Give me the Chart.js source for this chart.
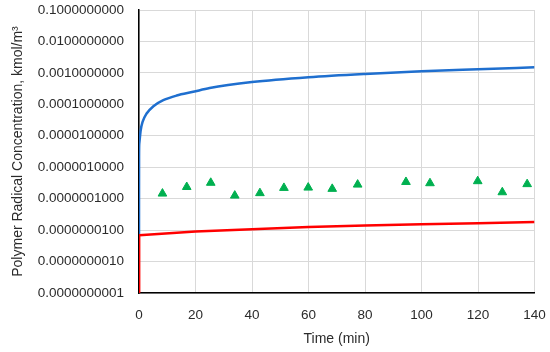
<!DOCTYPE html>
<html>
<head>
<meta charset="utf-8">
<script src="https://cdn.jsdelivr.net/npm/chart.js@4"></script>
<style>
  html, body { margin: 0; padding: 0; background: #fff; }
  #wrap { width: 550px; height: 352px; }
</style>
</head>
<body>
<div id="wrap"><canvas id="radicals" width="550" height="352"></canvas></div>
<script>
// blue curve
const blueTime = [0, 0.02, 0.1, 0.6, 1.3, 2.7, 5.1, 8.6, 13.3, 19.2, 25, 40, 60, 80, 100, 120, 140];
const blueConc = [7e-9, 2e-6, 5.6e-6, 1.5e-5, 2.8e-5, 5.1e-5, 8.7e-5, 1.35e-4, 1.9e-4, 2.5e-4, 3.3e-4, 5.1e-4, 7.3e-4, 9.3e-4, 1.12e-3, 1.3e-3, 1.5e-3];

// red curve
const redTime = [0, 0.05, 20, 40, 60, 80, 100, 120, 140];
const redConc = [1e-10, 6.9e-9, 9e-9, 1.07e-8, 1.25e-8, 1.4e-8, 1.53e-8, 1.65e-8, 1.8e-8];

// green triangles
const triTime = [8.3, 16.9, 25.4, 33.9, 42.8, 51.3, 59.9, 68.4, 77.4, 94.5, 103, 119.9, 128.6, 137.4];
const triConc = [1.45e-7, 2.35e-7, 3.2e-7, 1.25e-7, 1.5e-7, 2.2e-7, 2.25e-7, 2.05e-7, 2.8e-7, 3.4e-7, 3.1e-7, 3.6e-7, 1.6e-7, 2.9e-7];

const yTicks = [1e-10, 1e-9, 1e-8, 1e-7, 1e-6, 1e-5, 1e-4, 1e-3, 1e-2, 1e-1];
const xTicks = [0, 20, 40, 60, 80, 100, 120, 140];

const pts = (xs, ys) => xs.map((x, i) => ({x: x, y: ys[i]}));

const textCol = '#2b2b2b';
const fontFam = '"Liberation Sans", Arial, sans-serif';

new Chart(document.getElementById('radicals'), {
    type: 'scatter',
    data: {
        datasets: [
            {
                data: pts(redTime, redConc),
                showLine: true,
                borderColor: '#ff0000',
                borderWidth: 2.5,
                pointRadius: 0,
                tension: 0
            },
            {
                data: pts(blueTime, blueConc),
                showLine: true,
                borderColor: '#1f6fcf',
                borderWidth: 2.5,
                pointRadius: 0,
                cubicInterpolationMode: 'monotone'
            },
            {
                data: pts(triTime, triConc),
                showLine: false,
                pointStyle: 'triangle',
                pointRadius: 5,
                backgroundColor: '#00b050',
                borderColor: '#00b050',
                borderWidth: 1
            }
        ]
    },
    options: {
        responsive: false,
        animation: false,
        layout: { padding: { top: 10, right: 15.5, left: 0, bottom: 0 } },
        plugins: {
            legend: { display: false },
            tooltip: { enabled: false }
        },
        scales: {
            x: {
                type: 'linear',
                min: 0,
                max: 140,
                afterBuildTicks: (ax) => { ax.ticks = xTicks.map(v => ({value: v})); },
                afterFit: (ax) => {
                    ax.height = 59;
                    ax.paddingLeft = 0;
                    ax.paddingRight = 0;
                },
                grid: { color: '#d9d9d9', drawTicks: false },
                border: { color: '#000000', width: 1.5 },
                ticks: { color: textCol, padding: 14, font: { family: fontFam, size: 13.5 } },
                title: {
                    display: true,
                    text: 'Time (min)',
                    color: textCol,
                    font: { family: fontFam, size: 14 },
                    padding: { top: 2, bottom: 4 }
                }
            },
            y: {
                type: 'logarithmic',
                min: 1e-10,
                max: 0.1,
                afterBuildTicks: (ax) => { ax.ticks = yTicks.map(v => ({value: v})); },
                afterFit: (ax) => {
                    ax.width = 139;
                    ax.paddingTop = 0;
                    ax.paddingBottom = 0;
                },
                grid: { color: '#d9d9d9', drawTicks: false },
                border: { color: '#000000', width: 1.5 },
                ticks: {
                    color: textCol,
                    padding: 15,
                    font: { family: fontFam, size: 13.5 },
                    callback: (v) => Number(v).toFixed(10)
                },
                title: {
                    display: true,
                    text: 'Polymer Radical Concentration, kmol/m³',
                    color: textCol,
                    font: { family: fontFam, size: 14 },
                    padding: { top: 10, bottom: 4 }
                }
            }
        }
    }
});
</script>
</body>
</html>
